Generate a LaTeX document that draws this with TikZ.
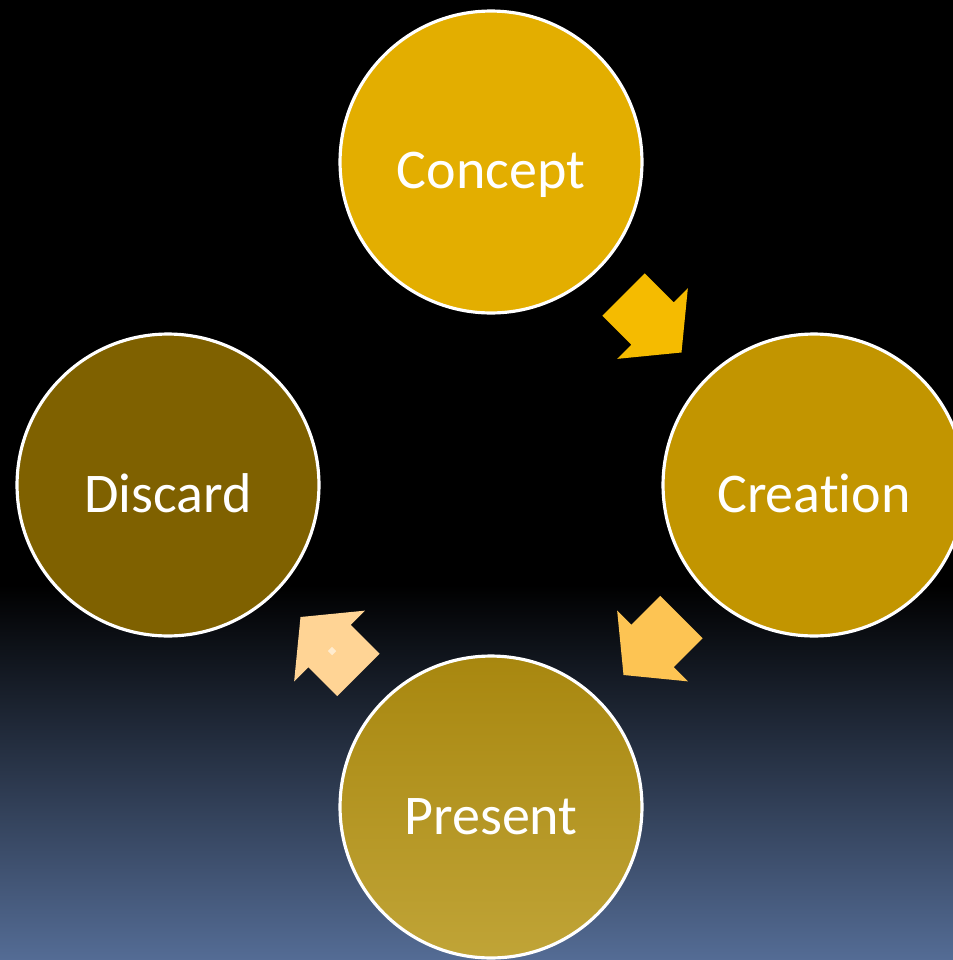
\documentclass[tikz,border=0pt]{standalone}
\usepackage{fontspec}
\setmainfont{Carlito}[Ligatures=NoCommon]
\usetikzlibrary{calc}

\definecolor{conceptcol}{HTML}{E3AE00}
\definecolor{creationcol}{HTML}{C29500}
\definecolor{discardcol}{HTML}{7F6100}
\definecolor{presenttop}{HTML}{A8870F}
\definecolor{presentbot}{HTML}{C0A437}
\definecolor{arrowa}{HTML}{F5BB00}
\definecolor{arrowb}{HTML}{FDC453}
\definecolor{arrowc}{HTML}{FFD495}
\definecolor{bgblue}{HTML}{546C95}

\tikzset{stage/.style={circle, draw=white, line width=1.8pt, minimum size=6.04cm, inner sep=0pt,
		text=white, font=\fontsize{31.9}{38}\selectfont, text height=1.08cm, text depth=0pt}}

% block arrow: centre, angle, colour
\newcommand{\cyclearrow}[3]{%
	\fill[#3, shift={(#1)}, rotate=#2] (-41,-30) -- (0,-30) -- (0,-50) -- (41,0) -- (0,50) -- (0,30) -- (-41,30) -- cycle;}

\begin{document}
\begin{tikzpicture}[x=0.02cm, y=-0.02cm]
			\useasboundingbox (0,0) rectangle (953,960);
			\clip (0,0) rectangle (953,960);
			\fill[black] (0,0) rectangle (953,586);
			\shade[top color=black, bottom color=bgblue] (0,585) rectangle (953,960);
			\node[stage, fill=conceptcol] (concept) at (491,162) {Concept};
			\node[stage, fill=creationcol] (creation) at (814,485) {Creation};
			\node[stage, top color=presenttop, bottom color=presentbot] (present) at (491,807) {Present};
			\node[stage, fill=discardcol] (discard) at (168,485) {Discard};
			\coordinate (a1) at ($(concept)!0.5!(creation)$);
			\coordinate (a2) at ($(creation)!0.5!(present)$);
			\coordinate (a3) at ($(present)!0.5!(discard)$);
			\cyclearrow{a1}{-45}{arrowa}
			\cyclearrow{a2}{-135}{arrowb}
			\cyclearrow{a3}{135}{arrowc}
			\fill[white!55!arrowc, rotate around={45:(332,651)}] (329,648) rectangle (335,654);
\end{tikzpicture}
\end{document}
